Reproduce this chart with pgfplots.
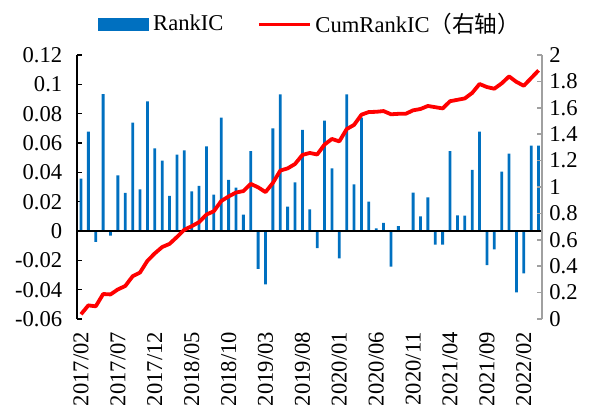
\documentclass[border=0pt]{standalone}
\usepackage{pgfplots}
\pgfplotsset{compat=1.18}
\usepackage{pgfplotstable}
\usepackage{fontspec}
\setmainfont{Liberation Serif}
\newfontfamily\cjk{Noto Sans CJK SC}
\definecolor{barblue}{RGB}{0,112,192}
\definecolor{axgray}{RGB}{160,160,160}
\pgfplotsset{
  barlegend/.style={legend image code/.code={\fill[barblue] (0pt,-3pt) rectangle (25pt,3pt);}},
  linelegend/.style={legend image code/.code={\draw[red, line width=1.5pt] (0pt,0pt) -- (25.5pt,0pt);}},
}
\pgfplotstableread{
x ic cum
0 0.0357 0.0357
1 0.0677 0.1034
2 -0.0075 0.0959
3 0.0934 0.1893
4 -0.0032 0.1861
5 0.0380 0.2241
6 0.0260 0.2501
7 0.0739 0.3240
8 0.0284 0.3524
9 0.0884 0.4408
10 0.0564 0.4972
11 0.0480 0.5452
12 0.0239 0.5691
13 0.0520 0.6211
14 0.0550 0.6761
15 0.0270 0.7031
16 0.0307 0.7338
17 0.0577 0.7915
18 0.0248 0.8163
19 0.0773 0.8936
20 0.0348 0.9284
21 0.0295 0.9579
22 0.0111 0.9690
23 0.0545 1.0235
24 -0.0259 0.9976
25 -0.0364 0.9612
26 0.0700 1.0312
27 0.0932 1.1244
28 0.0166 1.1410
29 0.0332 1.1742
30 0.0689 1.2431
31 0.0148 1.2579
32 -0.0116 1.2463
33 0.0752 1.3215
34 0.0427 1.3642
35 -0.0186 1.3456
36 0.0932 1.4388
37 0.0318 1.4706
38 0.0773 1.5479
39 0.0200 1.5679
40 0.0018 1.5697
41 0.0055 1.5752
42 -0.0243 1.5509
43 0.0034 1.5543
44 0.0005 1.5548
45 0.0261 1.5809
46 0.0100 1.5909
47 0.0230 1.6139
48 -0.0093 1.6046
49 -0.0093 1.5953
50 0.0545 1.6498
51 0.0107 1.6605
52 0.0105 1.6710
53 0.0416 1.7126
54 0.0677 1.7803
55 -0.0232 1.7571
56 -0.0125 1.7446
57 0.0405 1.7851
58 0.0527 1.8378
59 -0.0418 1.7960
60 -0.0289 1.7671
61 0.0582 1.8253
62 0.0582 1.8835
}\datatable
\newcommand\fs{\fontsize{11.3}{13.5}\selectfont}
\begin{document}
\begin{tikzpicture}
\useasboundingbox (-38.65pt,-49pt) rectangle (261.35pt,159.5pt);
\begin{axis}[
  at={(0pt,0pt)}, anchor=south west,
  scale only axis, width=232.5pt, height=132pt,
  xmin=-0.5, xmax=62.5, ymin=-0.06, ymax=0.12,
  axis y line*=left, axis x line*=bottom,
  x axis line style={draw=none},
  y axis line style={black, line width=1pt},
  xtick={0,5,10,15,20,25,30,35,40,45,50,55,60},
  xticklabels={2017/02,2017/07,2017/12,2018/05,2018/10,2019/03,2019/08,2020/01,2020/06,2020/11,2021/04,2021/09,2022/02},
  major x tick style={draw=none},
  xticklabel style={rotate=90, anchor=east, font=\fs},
  xticklabel shift=3pt,
  ytick={-0.06,-0.04,-0.02,0,0.02,0.04,0.06,0.08,0.1,0.12},
  major y tick style={black, line width=0.8pt},
  tick align=inside, major tick length=2.5pt,
  yticklabel style={font=\fs, /pgf/number format/fixed, /pgf/number format/precision=2, /pgf/number format/assume math mode=true},
  yticklabel shift=4pt,
  clip=false,
]
\addplot[ybar, bar width=1.4pt, fill=barblue, draw=none] table[x=x, y=ic] {\datatable};
\addplot[black, line width=1pt, forget plot] coordinates {(-0.5,0) (62.5,0)};
\end{axis}
\begin{axis}[
  at={(0pt,0pt)}, anchor=south west,
  scale only axis, width=232.5pt, height=132pt,
  xmin=-0.5, xmax=62.5, ymin=0, ymax=2,
  axis y line*=right, axis x line=none,
  y axis line style={axgray, line width=0.8pt},
  ytick={0,0.2,0.4,0.6,0.8,1,1.2,1.4,1.6,1.8,2},
  major y tick style={axgray, line width=0.8pt},
  tick align=inside, major tick length=2.5pt,
  yticklabel style={font=\fs, /pgf/number format/fixed, /pgf/number format/precision=1, /pgf/number format/assume math mode=true},
  legend columns=2,
  legend style={at={(0.0445,1.117)}, anchor=west, draw=none, fill=none, inner sep=0pt, font=\fs,
    /tikz/every even column/.append style={column sep=15pt}},
]
\addlegendimage{barlegend}
\addlegendentry{RankIC}
\addplot[red, line width=1.9pt, line join=round, linelegend] table[x=x, y=cum] {\datatable};
\addlegendentry{CumRankIC{\cjk （右轴）}}
\end{axis}
\end{tikzpicture}
\end{document}
